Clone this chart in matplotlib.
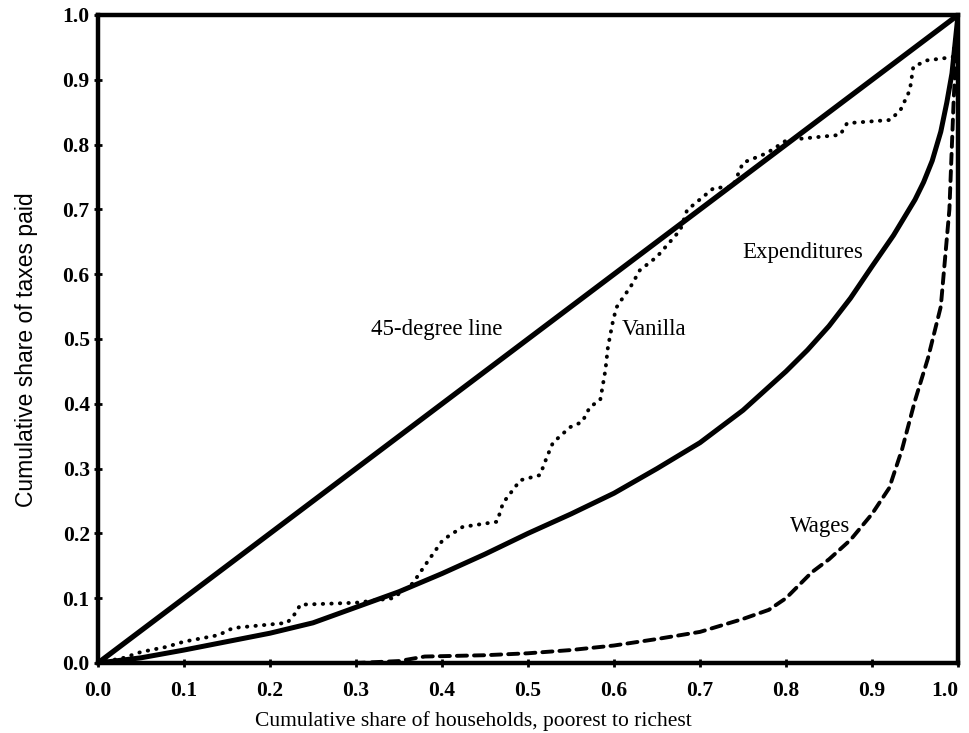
import matplotlib
matplotlib.use("Agg")
import matplotlib.pyplot as plt

# Data
line45_x = [0.0, 1.0]
line45_y = [0.0, 1.0]

exp_x = [0.0, 0.05, 0.10, 0.15, 0.20, 0.25, 0.30, 0.35, 0.40, 0.45, 0.50, 0.55,
         0.60, 0.65, 0.70, 0.75, 0.80, 0.825, 0.85, 0.875, 0.90, 0.925, 0.95, 0.96,
         0.97, 0.98, 0.987, 0.993, 1.0]
exp_y = [0.0, 0.008, 0.020, 0.033, 0.046, 0.062, 0.086, 0.110, 0.138, 0.168, 0.200, 0.230,
         0.262, 0.300, 0.340, 0.390, 0.450, 0.483, 0.520, 0.563, 0.612, 0.660, 0.715, 0.742,
         0.775, 0.820, 0.865, 0.910, 1.0]

wage_x = [0.0, 0.30, 0.35, 0.38, 0.45, 0.50, 0.55, 0.60, 0.65, 0.70, 0.75, 0.78,
          0.80, 0.83, 0.85, 0.875, 0.90, 0.92, 0.935, 0.95, 0.965, 0.98, 0.99, 0.995, 1.0]
wage_y = [0.0, 0.0, 0.003, 0.010, 0.012, 0.015, 0.020, 0.027, 0.037, 0.048, 0.068, 0.082,
          0.100, 0.140, 0.160, 0.190, 0.230, 0.270, 0.330, 0.405, 0.470, 0.550, 0.700, 0.870, 1.0]

van_x = [0.0, 0.03, 0.05, 0.08, 0.10, 0.14, 0.157, 0.22, 0.231, 0.235, 0.30, 0.343,
         0.366, 0.383, 0.401, 0.424, 0.464, 0.471, 0.491, 0.514, 0.522, 0.529, 0.549,
         0.563, 0.572, 0.584, 0.586, 0.590, 0.593, 0.599, 0.603, 0.611, 0.619, 0.630,
         0.650, 0.677, 0.685, 0.716, 0.738, 0.750, 0.778, 0.801, 0.863, 0.871, 0.921,
         0.933, 0.944, 0.948, 0.964, 0.994, 1.0]
van_y = [0.0, 0.008, 0.017, 0.025, 0.033, 0.043, 0.054, 0.062, 0.079, 0.090, 0.093, 0.100,
         0.123, 0.156, 0.190, 0.210, 0.218, 0.247, 0.282, 0.290, 0.318, 0.340, 0.364,
         0.372, 0.395, 0.406, 0.421, 0.452, 0.488, 0.529, 0.549, 0.565, 0.580, 0.606,
         0.627, 0.668, 0.699, 0.733, 0.735, 0.772, 0.787, 0.807, 0.815, 0.833, 0.838,
         0.853, 0.884, 0.920, 0.930, 0.935, 1.0]

ticks = [0.0, 0.1, 0.2, 0.3, 0.4, 0.5, 0.6, 0.7, 0.8, 0.9, 1.0]
tick_labels = ["0.0", "0.1", "0.2", "0.3", "0.4", "0.5", "0.6", "0.7", "0.8", "0.9", "1.0"]

serif = "Liberation Serif"

fig = plt.figure(figsize=(9.69, 7.33), dpi=100)
ax = fig.add_axes([98/969, 70/733, 860/969, 648/733])

ax.plot(line45_x, line45_y, color="black", lw=3.8, solid_capstyle="round")
ax.plot(exp_x, exp_y, color="black", lw=3.6, solid_capstyle="round",
        solid_joinstyle="round")
ax.plot(van_x, van_y, color="black", lw=2.8, linestyle=(0, (0.1, 2.1)),
        dash_capstyle="round")
ax.plot(wage_x, wage_y, color="black", lw=2.8, linestyle=(0, (2.6, 1.8)),
        dash_capstyle="round", dash_joinstyle="round")

ax.set_xlim(0, 1)
ax.set_ylim(0, 1)
ax.set_xticks(ticks)
ax.set_xticklabels(tick_labels, fontfamily=serif, fontsize=15.5, fontweight="bold")
ax.set_yticks(ticks)
ax.set_yticklabels(tick_labels, fontfamily=serif, fontsize=15.5, fontweight="bold")
ax.tick_params(axis="x", direction="inout", length=6, width=2, pad=10)
ax.tick_params(axis="y", direction="inout", length=6, width=2, pad=3)
ax.get_xticklabels()[-1].set_ha("right")

for s in ax.spines.values():
    s.set_linewidth(3.2)

ax.set_xlabel("Cumulative share of households, poorest to richest",
              fontfamily=serif, fontsize=15.5)
ax.xaxis.set_label_coords(0.436, -0.074)
ax.set_ylabel("Cumulative share of taxes paid", fontfamily="Liberation Sans",
              fontsize=16.5)
ax.yaxis.set_label_coords(-0.07, 0.483)

ax.text(0.394, 0.514, "45-degree line", fontfamily=serif, fontsize=16.5,
        ha="center", va="center")
ax.text(0.609, 0.514, "Vanilla", fontfamily=serif, fontsize=16.5,
        ha="left", va="center")
ax.text(0.820, 0.633, "Expenditures", fontfamily=serif, fontsize=16.5,
        ha="center", va="center")
ax.text(0.840, 0.210, "Wages", fontfamily=serif, fontsize=16.5,
        ha="center", va="center")

fig.savefig("out.png", dpi=100)
